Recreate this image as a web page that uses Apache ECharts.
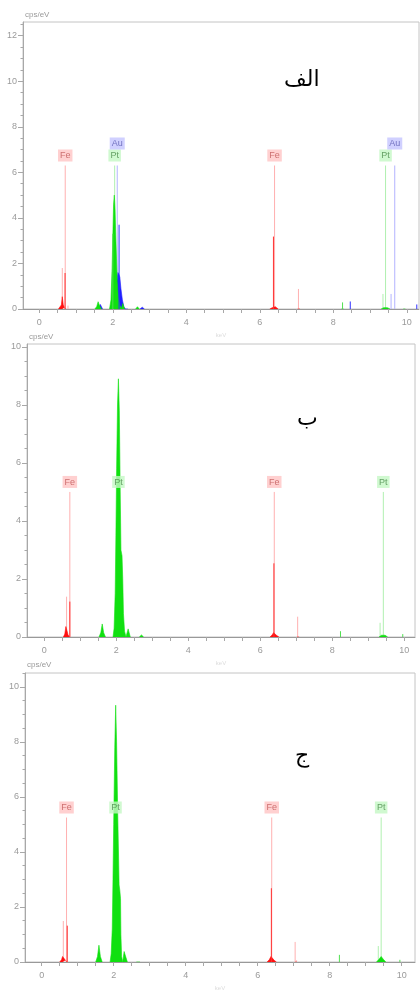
<!DOCTYPE html>
<html><head><meta charset="utf-8">
<script src="https://cdn.jsdelivr.net/npm/echarts@6/dist/echarts.min.js"></script>
<style>html,body{margin:0;padding:0;background:#fff}#c{width:420px;height:992px}</style>
</head><body><div id="c"></div>
<script>
// ================= DATA =================
const panelTitles = ['الف', 'ب', 'ج'];
const yUnit = 'cps/eV';
const xUnit = 'keV';
const xTickLabels = [0, 2, 4, 6, 8, 10];
const xTicks = [0, 0.5, 1, 1.5, 2, 2.5, 3, 3.5, 4, 4.5, 5, 5.5, 6, 6.5, 7, 7.5, 8, 8.5, 9, 9.5, 10];
const yTickLabelsA = [0, 2, 4, 6, 8, 10, 12];
const yTickLabelsB = [0, 2, 4, 6, 8, 10];
const yTickLabelsC = [0, 2, 4, 6, 8, 10];
const yMinorTicks = [0.5, 1, 1.5, 2.5, 3, 3.5, 4.5, 5, 5.5, 6.5, 7, 7.5, 8.5, 9, 9.5, 10.5, 11, 11.5, 12.5];
const xRangeA = [-0.444, 10.33], xRangeB = [-0.48, 10.30], xRangeC = [-0.464, 10.37];
const yMaxA = 12.6, yMaxB = 10.1, yMaxC = 10.5;

// element marker lines [element, energy keV] and their drawn height (cps/eV)
const markersA = [['Fe', 0.705], ['Fe', 6.40], ['Pt', 2.05], ['Pt', 9.42], ['Au', 2.12], ['Au', 9.67]];
const markerHeightA = 6.3;
const markersB = [['Fe', 0.71], ['Fe', 6.39], ['Pt', 2.06], ['Pt', 9.42]];
const markerHeightB = 5.0;
const markersC = [['Fe', 0.69], ['Fe', 6.39], ['Pt', 2.05], ['Pt', 9.43]];
const markerHeightC = 5.25;

// ---- Panel A spectrum ----
const feBumpsA = [
  [[0.52, 0], [0.57, 0.06], [0.60, 0.18], [0.625, 0.54], [0.65, 0.2], [0.68, 0.07], [0.72, 0]],
  [[6.27, 0], [6.33, 0.05], [6.37, 0.11], [6.42, 0.10], [6.46, 0.04], [6.50, 0]],
  [[7.03, 0], [7.06, 0.04], [7.09, 0]]
];
const ptBumpsA = [
  [[1.51, 0], [1.56, 0.10], [1.60, 0.32], [1.64, 0.14], [1.69, 0]],
  [[1.91, 0], [1.95, 0.4], [1.98, 1.8], [2.00, 3.2], [2.02, 4.6], [2.04, 5.0], [2.06, 4.4], [2.08, 3.2], [2.10, 2.2], [2.12, 1.2], [2.15, 0.5], [2.19, 0.15], [2.24, 0]],
  [[2.23, 0], [2.27, 0.24], [2.32, 0]],
  [[2.62, 0], [2.67, 0.10], [2.72, 0]],
  [[8.22, 0], [8.25, 0.04], [8.28, 0]],
  [[9.30, 0], [9.37, 0.06], [9.42, 0.10], [9.47, 0.06], [9.54, 0]],
  [[9.90, 0], [9.93, 0.04], [9.96, 0]]
];
const auBumpsA = [
  [[1.61, 0], [1.66, 0.2], [1.72, 0]],
  [[2.07, 0], [2.11, 1.2], [2.14, 1.6], [2.17, 1.5], [2.19, 1.4], [2.22, 0.9], [2.26, 0.4], [2.30, 0.1], [2.34, 0]],
  [[2.33, 0], [2.37, 0.08], [2.41, 0]],
  [[2.74, 0], [2.80, 0.08], [2.86, 0]]
];
const feLightA = [[0.625, 1.8], [7.05, 0.88], [0.78, 0.15]];
const ptLightA = [[9.35, 0.66]];
const auLightA = [[9.57, 0.66]];
const feDarkA = [[0.70, 1.58], [6.37, 3.18]];
const ptDarkA = [[8.25, 0.29], [2.00, 3.3]];
const auDarkA = [[2.17, 3.7], [8.46, 0.33], [10.27, 0.2]];

// ---- Panel B spectrum ----
const feBumpsB = [
  [[0.53, 0], [0.57, 0.10], [0.60, 0.36], [0.63, 0.22], [0.66, 0.08], [0.70, 0]],
  [[6.27, 0], [6.33, 0.07], [6.37, 0.15], [6.42, 0.14], [6.46, 0.05], [6.52, 0]],
  [[7.02, 0], [7.05, 0.04], [7.08, 0]]
];
const ptBumpsB = [
  [[1.52, 0], [1.57, 0.15], [1.61, 0.45], [1.65, 0.15], [1.70, 0]],
  [[1.91, 0], [1.94, 0.3], [1.97, 1.5], [1.99, 3.5], [2.01, 5.8], [2.035, 8.0], [2.06, 8.9], [2.085, 7.8], [2.11, 5.0], [2.13, 3.0], [2.16, 2.8], [2.18, 2.0], [2.20, 0.8], [2.23, 0.2], [2.27, 0]],
  [[2.27, 0], [2.33, 0.28], [2.39, 0]],
  [[2.64, 0], [2.70, 0.07], [2.76, 0]],
  [[9.30, 0], [9.37, 0.06], [9.42, 0.10], [9.47, 0.06], [9.54, 0]]
];
const feLightB = [[0.62, 1.39], [7.04, 0.7]];
const ptLightB = [[9.33, 0.49]];
const feDarkB = [[0.71, 1.22], [6.38, 2.54]];
const ptDarkB = [[8.23, 0.2], [9.96, 0.1]];

// ---- Panel C spectrum ----
const feBumpsC = [
  [[0.50, 0], [0.55, 0.08], [0.58, 0.2], [0.62, 0.22], [0.66, 0.06], [0.70, 0]],
  [[6.26, 0], [6.32, 0.08], [6.37, 0.2], [6.41, 0.18], [6.46, 0.06], [6.52, 0]],
  [[7.06, 0], [7.08, 0.05], [7.10, 0]]
];
const ptBumpsC = [
  [[1.50, 0], [1.55, 0.2], [1.59, 0.61], [1.63, 0.2], [1.68, 0]],
  [[1.90, 0], [1.93, 0.3], [1.96, 1.2], [1.98, 3.0], [2.00, 5.0], [2.03, 7.8], [2.055, 9.33], [2.08, 8.0], [2.11, 5.5], [2.14, 3.5], [2.15, 2.8], [2.17, 2.6], [2.19, 2.3], [2.20, 1.0], [2.22, 0.2], [2.25, 0]],
  [[2.25, 0], [2.29, 0.38], [2.32, 0.25], [2.34, 0.3], [2.38, 0]],
  [[2.63, 0], [2.68, 0.05], [2.73, 0]],
  [[9.30, 0], [9.37, 0.1], [9.43, 0.2], [9.49, 0.1], [9.56, 0]]
];
const feLightC = [[0.60, 1.49], [7.04, 0.73]];
const ptLightC = [[9.35, 0.58]];
const feDarkC = [[0.71, 1.32], [6.38, 2.68]];
const ptDarkC = [[8.27, 0.26], [9.95, 0.08]];

// ================= STYLE =================
const COL = {
  Fe: { fill: '#ff1010', light: '#ffb0b0', dark: '#ff3030', bg: '#ffc4c4', text: '#c05858' },
  Pt: { fill: '#10e010', light: '#b0f0b0', dark: '#50e050', bg: '#c4f8c4', text: '#4a8a4a' },
  Au: { fill: '#2020ff', light: '#b4b4ff', dark: '#3030ff', bg: '#c4c4ff', text: '#5a5ab0' }
};
const axisGray = '#a8a8a8';
const labelGray = '#9a9a9a';
const narrow = "'Liberation Sans Narrow','Liberation Sans',sans-serif";

const grids = [
  { left: 23, top: 22, width: 396, height: 287 },
  { left: 27, top: 344, width: 388, height: 293 },
  { left: 25, top: 673, width: 390, height: 299.5 }
];
const unitPos = [[25, 11], [29, 333], [27, 661]];
const panels = [
  { xr: xRangeA, ymax: yMaxA, ylab: yTickLabelsA, markers: markersA, mh: markerHeightA,
    bumps: { Au: auBumpsA, Fe: feBumpsA, Pt: ptBumpsA },
    light: { Fe: feLightA, Pt: ptLightA, Au: auLightA },
    dark: { Fe: feDarkA, Pt: ptDarkA, Au: auDarkA }, title: [304, 85] },
  { xr: xRangeB, ymax: yMaxB, ylab: yTickLabelsB, markers: markersB, mh: markerHeightB,
    bumps: { Fe: feBumpsB, Pt: ptBumpsB },
    light: { Fe: feLightB, Pt: ptLightB },
    dark: { Fe: feDarkB, Pt: ptDarkB }, title: [317, 424] },
  { xr: xRangeC, ymax: yMaxC, ylab: yTickLabelsC, markers: markersC, mh: markerHeightC,
    bumps: { Fe: feBumpsC, Pt: ptBumpsC },
    light: { Fe: feLightC, Pt: ptLightC },
    dark: { Fe: feDarkC, Pt: ptDarkC }, title: [315, 761] }
];

const xAxes = [], yAxes = [], series = [], gridOpts = [], graphics = [];

function sticks(axis, yAxis, data, color, z) {
  return data.map(function (d) {
    return {
      type: 'line', xAxisIndex: axis, yAxisIndex: yAxis, silent: true, symbol: 'none', z: z,
      data: [[d[0], 0], [d[0], d[1]]],
      lineStyle: { color: color, width: 1 }
    };
  });
}

panels.forEach(function (p, i) {
  const g = grids[i];
  gridOpts.push(Object.assign({ show: true, borderColor: '#c4c4c4', borderWidth: 1, backgroundColor: '#fff' }, g));
  xAxes.push({
    type: 'value', gridIndex: i, min: p.xr[0], max: p.xr[1],
    name: xUnit, nameLocation: 'middle', nameGap: 23,
    nameTextStyle: { color: '#dcdcdc', fontSize: 6, fontFamily: narrow },
    axisLine: { show: true, onZero: false, lineStyle: { color: '#999', width: 1 } },
    axisTick: { show: true, length: 4, customValues: xTicks.filter(v => v >= p.xr[0] && v <= p.xr[1]), lineStyle: { color: axisGray } },
    axisLabel: { show: true, customValues: xTickLabels, color: labelGray, fontSize: 9, margin: 9, fontFamily: narrow },
    splitLine: { show: false }
  });
  yAxes.push({
    type: 'value', gridIndex: i, min: 0, max: p.ymax, position: 'left',
    axisLine: { show: true, onZero: false, lineStyle: { color: axisGray } },
    axisTick: { show: true, length: 5, customValues: p.ylab, lineStyle: { color: axisGray } },
    axisLabel: { show: true, customValues: p.ylab, color: labelGray, fontSize: 9, margin: 6, fontFamily: narrow },
    splitLine: { show: false }
  });
  graphics.push({
    type: 'text', left: unitPos[i][0], top: unitPos[i][1], z: 10,
    style: { text: yUnit, fill: labelGray, font: "8px 'Liberation Sans Narrow','Liberation Sans',sans-serif" }
  });
});
// minor y tick overlay axes (indices 3,4,5)
panels.forEach(function (p, i) {
  yAxes.push({
    type: 'value', gridIndex: i, min: 0, max: p.ymax, position: 'left',
    axisLine: { show: false, onZero: false },
    axisTick: { show: true, length: 2.5, customValues: yMinorTicks.filter(v => v <= p.ymax), lineStyle: { color: axisGray } },
    axisLabel: { show: false },
    splitLine: { show: false }
  });
});

panels.forEach(function (p, i) {
  ['Fe', 'Pt', 'Au'].forEach(function (el) {
    const m = p.markers.filter(d => d[0] === el).map(d => [d[1], p.mh]);
    series.push.apply(series, sticks(i, i, m, COL[el].light, 1));
    if (p.light[el]) series.push.apply(series, sticks(i, i, p.light[el], COL[el].light, 1));
  });
  Object.keys(p.bumps).forEach(function (el) {
    p.bumps[el].forEach(function (b) {
      series.push({
        type: 'line', xAxisIndex: i, yAxisIndex: i, data: b, symbol: 'none', silent: true,
        z: el === 'Au' ? 2 : 3,
        lineStyle: { color: COL[el].fill, width: 0.6 },
        areaStyle: { color: COL[el].fill, opacity: 1 }
      });
    });
  });
  Object.keys(p.dark).forEach(function (el) {
    series.push.apply(series, sticks(i, i, p.dark[el], COL[el].dark, 4));
  });
  ['Fe', 'Pt', 'Au'].forEach(function (el) {
    const m = p.markers.filter(d => d[0] === el).map(d => ({ value: [d[1], p.mh], name: d[0] }));
    if (!m.length) return;
    series.push({
      type: 'scatter', xAxisIndex: i, yAxisIndex: i, data: m, symbolSize: 0, z: 6, silent: true,
      label: {
        show: true, position: 'top', distance: 4, formatter: '{b}',
        offset: el === 'Au' ? [0, -12] : [0, 0],
        color: COL[el].text, backgroundColor: COL[el].bg, fontSize: 9, fontFamily: narrow,
        padding: [2, 2, 1, 2], lineHeight: 9
      }
    });
  });
  graphics.push({
    type: 'text', left: p.title[0] - 20, top: p.title[1] - 16, z: 10,
    style: { text: panelTitles[i], fill: '#000', font: "22px 'DejaVu Sans'", width: 40, align: 'center' }
  });
});

const chart = echarts.init(document.getElementById('c'), null, { renderer: 'canvas' });
chart.setOption({
  animation: false,
  backgroundColor: '#fff',
  grid: gridOpts,
  xAxis: xAxes,
  yAxis: yAxes,
  series: series,
  graphic: graphics
});
</script></body></html>
